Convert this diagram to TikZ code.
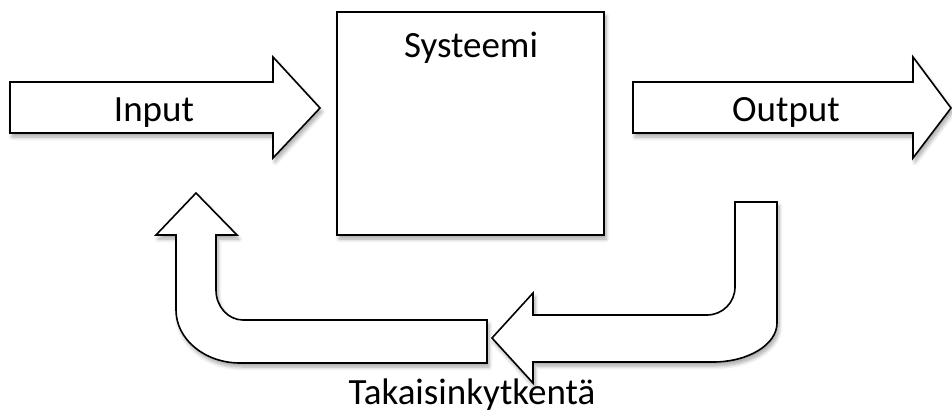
\documentclass[tikz,border=0pt]{standalone}
\usepackage{fontspec}
\setmainfont{Carlito}
\usetikzlibrary{positioning, shadows.blur}

\begin{document}
\begin{tikzpicture}[x=0.5pt, y=-0.5pt, line width=0.8pt, line join=miter,
  every node/.style={inner sep=0pt, font=\fontsize{18.5}{22}\selectfont},
  softshadow/.style={blur shadow={shadow xshift=1pt, shadow yshift=-2pt, shadow blur steps=6, shadow opacity=35}},
  blockarrow/.style={draw, fill=white, softshadow},
  systembox/.style={draw, fill=white, softshadow, minimum width=133.5pt, minimum height=111.5pt}]

\useasboundingbox (0,0) rectangle (952,412);

  % Input and output
  \draw[blockarrow] (10,82) -- (273,82) -- (273,57) -- (320,108) -- (273,158) -- (273,133) -- (10,133) -- cycle;
  \draw[blockarrow] (633,82) -- (913,82) -- (913,57) -- (951,108) -- (913,158) -- (913,133) -- (633,133) -- cycle;

  % System
  \node (systeemi) [systembox] at (470.5,123.5) {};

  % Feedback, right part
  \draw[blockarrow] (735,202) -- (777,202) -- (777,323)
    .. controls (777,344.5) and (748.3,362) .. (713,362)
    -- (533,362) -- (533,383) -- (492,338) -- (533,293) -- (533,315) -- (707,315)
    .. controls (722.5,315) and (735,302.5) .. (735,287) -- cycle;

  % Feedback, left part
  \draw[blockarrow] (487,363) -- (240,363)
    .. controls (204.7,363) and (176,339.3) .. (176,310)
    -- (176,235) -- (156,235) -- (196,193) -- (237,235) -- (216,235) -- (216,290)
    .. controls (216,306.6) and (228.1,320) .. (243,320) -- (487,320) -- cycle;

  % Labels
  \node (systeemi_label) [anchor=base] at (471,57) {Systeemi};
  \node (input) [anchor=base] at (154,121) {Input};
  \node (output) [anchor=base] at (786,121) {Output};
  \node (feedback) [anchor=base] at (472,404) {Takaisinkytkentä};

\end{tikzpicture}
\end{document}
